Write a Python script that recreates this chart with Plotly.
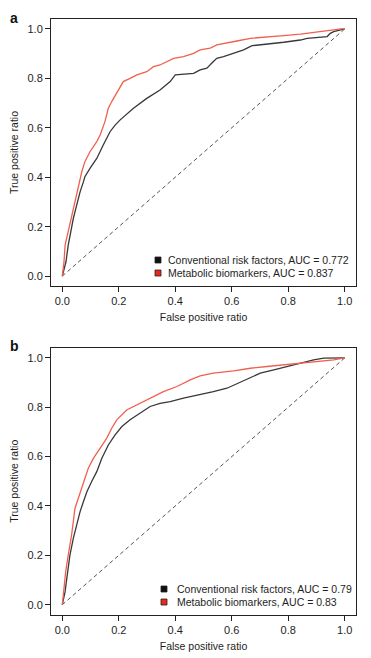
import plotly.graph_objects as go

# ---- data ----
conv_a_x = [0, 0.013, 0.021, 0.027, 0.039, 0.051, 0.063, 0.075, 0.080, 0.098, 0.122, 0.145, 0.169, 0.187, 0.205, 0.252, 0.299, 0.346, 0.382, 0.40, 0.465, 0.488, 0.512, 0.535, 0.547, 0.571, 0.607, 0.642, 0.672, 0.725, 0.784, 0.843, 0.867, 0.938, 0.949, 0.961, 0.985, 1.0]
conv_a_y = [0, 0.058, 0.125, 0.166, 0.233, 0.287, 0.341, 0.382, 0.402, 0.436, 0.476, 0.530, 0.584, 0.611, 0.632, 0.679, 0.719, 0.753, 0.787, 0.814, 0.82, 0.834, 0.841, 0.868, 0.881, 0.888, 0.902, 0.915, 0.932, 0.938, 0.946, 0.955, 0.962, 0.969, 0.982, 0.989, 0.996, 1.0]

met_a_x = [0, 0.006, 0.01, 0.021, 0.033, 0.045, 0.057, 0.069, 0.080, 0.098, 0.122, 0.134, 0.151, 0.163, 0.175, 0.193, 0.216, 0.240, 0.264, 0.299, 0.323, 0.346, 0.370, 0.394, 0.429, 0.465, 0.488, 0.524, 0.547, 0.583, 0.618, 0.666, 0.725, 0.784, 0.843, 0.902, 0.961, 0.985, 1.0]
met_a_y = [0, 0.058, 0.125, 0.179, 0.247, 0.301, 0.368, 0.422, 0.463, 0.503, 0.544, 0.571, 0.625, 0.679, 0.706, 0.740, 0.787, 0.80, 0.814, 0.827, 0.847, 0.854, 0.868, 0.881, 0.888, 0.901, 0.915, 0.922, 0.935, 0.942, 0.951, 0.962, 0.969, 0.973, 0.979, 0.986, 0.996, 1.0, 1.0]

conv_b_x = [0, 0.01, 0.016, 0.021, 0.027, 0.039, 0.051, 0.063, 0.075, 0.087, 0.104, 0.122, 0.140, 0.163, 0.187, 0.211, 0.240, 0.276, 0.311, 0.346, 0.382, 0.429, 0.488, 0.535, 0.583, 0.630, 0.666, 0.701, 0.749, 0.796, 0.843, 0.890, 0.926, 1.0]
conv_b_y = [0, 0.053, 0.107, 0.161, 0.201, 0.269, 0.323, 0.377, 0.418, 0.458, 0.499, 0.539, 0.593, 0.647, 0.688, 0.722, 0.749, 0.776, 0.803, 0.816, 0.823, 0.837, 0.850, 0.863, 0.877, 0.901, 0.918, 0.938, 0.951, 0.965, 0.978, 0.992, 0.999, 1.0]

met_b_x = [0, 0.006, 0.012, 0.021, 0.033, 0.045, 0.057, 0.075, 0.092, 0.110, 0.134, 0.157, 0.175, 0.193, 0.228, 0.264, 0.311, 0.358, 0.406, 0.453, 0.488, 0.535, 0.607, 0.666, 0.725, 0.796, 0.843, 0.902, 0.961, 1.0]
met_b_y = [0, 0.080, 0.134, 0.201, 0.283, 0.391, 0.431, 0.499, 0.553, 0.593, 0.634, 0.674, 0.715, 0.749, 0.789, 0.81, 0.837, 0.863, 0.884, 0.911, 0.927, 0.938, 0.947, 0.958, 0.965, 0.974, 0.978, 0.985, 0.992, 1.0]

diag = [0, 1]
tick_vals = [0, 0.2, 0.4, 0.6, 0.8, 1.0]
panel_labels = ["a", "b"]
legend_a = ["Conventional risk factors, AUC = 0.772", "Metabolic biomarkers, AUC = 0.837"]
legend_b = ["Conventional risk factors, AUC = 0.79", "Metabolic biomarkers, AUC = 0.83"]
series_colors = ["#111111", "#e8291c"]
x_title = "False positive ratio"
y_title = "True positive ratio"

# ---- styles ----
FONT = "Liberation Sans, Arial, Helvetica, sans-serif"
TXT = "#1e1e1e"
BLACK_LINE = "#383838"
RED_LINE = "#f0604f"
OFF = 8                      # page body margin
W, H = 371 - OFF, 658 - OFF  # figure size inside the page


def fx(px):
    return (px - OFF) / W


def fy(py):
    return 1 - (py - OFF) / H


fig = go.Figure()

panels = [
    (conv_a_x, conv_a_y, met_a_x, met_a_y, legend_a, "x", "y"),
    (conv_b_x, conv_b_y, met_b_x, met_b_y, legend_b, "x2", "y2"),
]
for cx, cy, mx, my, leg, xa, ya in panels:
    fig.add_trace(go.Scatter(x=diag, y=diag, mode="lines", xaxis=xa, yaxis=ya,
                             line=dict(color="#555555", width=1, dash="4px,3px"),
                             showlegend=False, hoverinfo="skip"))
    fig.add_trace(go.Scatter(x=cx, y=cy, mode="lines", xaxis=xa, yaxis=ya, name=leg[0],
                             line=dict(color=BLACK_LINE, width=1.3), showlegend=False))
    fig.add_trace(go.Scatter(x=mx, y=my, mode="lines", xaxis=xa, yaxis=ya, name=leg[1],
                             line=dict(color=RED_LINE, width=1.3), showlegend=False))

xdom = [fx(51), fx(356)]
ydom_a = [fy(286), fy(19)]
ydom_b = [fy(614.6), fy(348)]

axis_common = dict(
    range=[-0.04, 1.04], tickvals=tick_vals, tickformat=".1f",
    showgrid=False, zeroline=False, showline=True, mirror=True, automargin=False,
    linecolor="#222222", linewidth=1, ticks="outside", ticklen=5,
    tickwidth=1, tickcolor="#222222",
    tickfont=dict(family=FONT, size=11, color=TXT),
)
tfont = dict(size=10.5, family=FONT, color=TXT)

# legend keys (layout decoration, in page pixel positions)
legend_specs = [
    (legend_a, 155, 166, [260, 273]),
    (legend_b, 161, 175, [589, 602]),
]
shapes = []
annotations = []
for labels, sq_x, tx_x, rows in legend_specs:
    for lab, col, ry in zip(labels, series_colors, rows):
        shapes.append(dict(type="rect", xref="paper", yref="paper",
                           x0=fx(sq_x), x1=fx(sq_x + 6),
                           y0=fy(ry + 3), y1=fy(ry - 3),
                           fillcolor=col, line=dict(color="#222222", width=0.8)))
        annotations.append(dict(text=lab, x=fx(tx_x), y=fy(ry), xref="paper", yref="paper",
                                xanchor="left", yanchor="middle", showarrow=False,
                                font=tfont))

for lab, yy in zip(panel_labels, [18, 346]):
    annotations.append(dict(text="<b>%s</b>" % lab, x=fx(8), y=fy(yy), xref="paper", yref="paper",
                            xanchor="left", yanchor="middle", showarrow=False,
                            font=dict(family=FONT, size=14, color="#111111")))

fig.update_layout(
    width=W, height=H, margin=dict(l=0, r=0, t=0, b=0),
    paper_bgcolor="white", plot_bgcolor="white",
    font=dict(family=FONT, color=TXT),
    showlegend=False,
    xaxis=dict(domain=xdom, anchor="y", **axis_common,
               title=dict(text=x_title, font=tfont, standoff=7)),
    yaxis=dict(domain=ydom_a, anchor="x", **axis_common,
               title=dict(text=y_title, font=tfont, standoff=8)),
    xaxis2=dict(domain=xdom, anchor="y2", **axis_common,
                title=dict(text=x_title, font=tfont, standoff=7)),
    yaxis2=dict(domain=ydom_b, anchor="x2", **axis_common,
                title=dict(text=y_title, font=tfont, standoff=8)),
    shapes=shapes,
    annotations=annotations,
)

fig.write_html("out.html")
